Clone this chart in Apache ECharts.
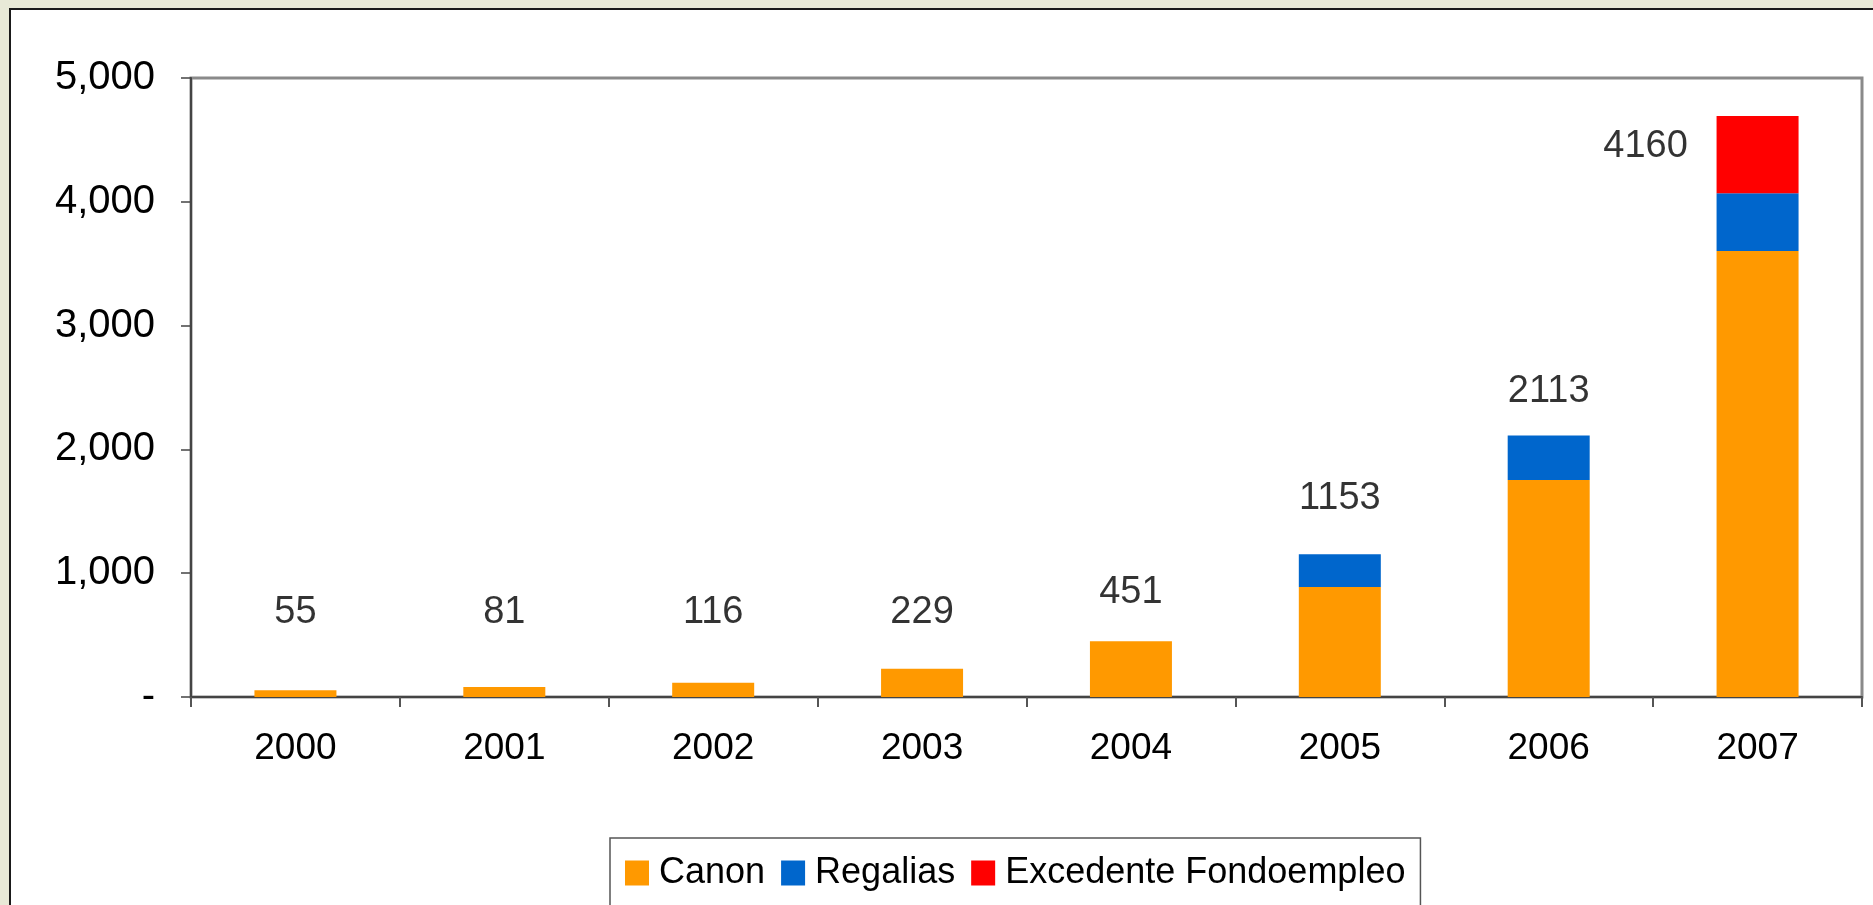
<!DOCTYPE html>
<html>
<head>
<meta charset="utf-8">
<script src="https://cdn.jsdelivr.net/npm/echarts@6/dist/echarts.min.js"></script>
<style>
  html, body { margin: 0; padding: 0; background: #e8e9d7; }
  #chart { width: 1873px; height: 905px; }
</style>
</head>
<body>
<div id="chart"></div>
<script>
// ---- data ----
const years = ['2000', '2001', '2002', '2003', '2004', '2005', '2006', '2007'];
const canon = [55, 81, 116, 229, 451, 888, 1753, 3603];
const regalias = [0, 0, 0, 0, 0, 265, 360, 466];
const excedente = [0, 0, 0, 0, 0, 0, 0, 624];
const totalLabels = ['55', '81', '116', '229', '451', '1153', '2113', '4160'];
const labelAnchor = [680, 680, 680, 680, 840, 1600, 2465, 4445];
const yTicks = [0, 1000, 2000, 3000, 4000, 5000];

const FONT = "'Liberation Sans', Arial, sans-serif";
const NARROW = "'Liberation Sans Narrow', 'Arial Narrow', 'Liberation Sans', sans-serif";
const chart = echarts.init(document.getElementById('chart'), null, { renderer: 'canvas' });

const labelData = labelAnchor.map((v, i) => {
  const item = { value: [years[i], v], label: { formatter: totalLabels[i] } };
  if (i === 7) item.label.offset = [-112, 0];
  return item;
});

chart.setOption({
  backgroundColor: '#e8e9d7',
  animation: false,
  textStyle: { fontFamily: FONT },
  graphic: [{
    type: 'rect', z: -10, silent: true,
    shape: { x: 10, y: 9, width: 1900, height: 960 },
    style: { fill: '#ffffff', stroke: '#1a1a1a', lineWidth: 2 }
  }],
  grid: {
    left: 191, right: 11, top: 78, bottom: 208,
    show: true, borderColor: '#8a8a8a', borderWidth: 3, backgroundColor: 'transparent'
  },
  legend: {
    data: ['Canon', 'Regalias', 'Excedente Fondoempleo'],
    left: 610, top: 838,
    padding: [17, 15, 40, 15],
    borderColor: '#555', borderWidth: 1.5,
    backgroundColor: '#ffffff',
    icon: 'rect', itemWidth: 24, itemHeight: 25, itemGap: 16,
    textStyle: { fontSize: 36, color: '#000', fontFamily: FONT, padding: [0, 0, 0, 5] }
  },
  xAxis: {
    type: 'category', data: years,
    axisLine: { show: true, lineStyle: { color: '#444', width: 2 } },
    axisTick: { show: true, alignWithLabel: false, length: 10, lineStyle: { color: '#555', width: 2 } },
    axisLabel: { fontSize: 37, color: '#000', margin: 33, fontFamily: FONT },
    splitLine: { show: false }
  },
  yAxis: {
    type: 'value', min: 0, max: 5000, interval: 1000,
    axisLine: { show: true, lineStyle: { color: '#444', width: 2 } },
    axisTick: { show: true, inside: false, length: 10, lineStyle: { color: '#444', width: 1.5 } },
    axisLabel: {
      fontSize: 40, color: '#000', margin: 36, fontFamily: FONT,
      formatter: v => (v === 0 ? '-' : v.toLocaleString('en-US'))
    },
    splitLine: { show: false }
  },
  series: [
    { name: 'Canon', type: 'bar', stack: 't', data: canon, barWidth: 82, itemStyle: { color: '#FF9900' } },
    { name: 'Regalias', type: 'bar', stack: 't', data: regalias, barWidth: 82, itemStyle: { color: '#0066CC' } },
    { name: 'Excedente Fondoempleo', type: 'bar', stack: 't', data: excedente, barWidth: 82, itemStyle: { color: '#FF0000' } },
    {
      name: 'totales', type: 'scatter', data: labelData, symbolSize: 0, silent: true, z: 5,
      label: { show: true, position: 'inside', fontSize: 38, color: '#000', fontFamily: NARROW }
    }
  ]
});
</script>
</body>
</html>
